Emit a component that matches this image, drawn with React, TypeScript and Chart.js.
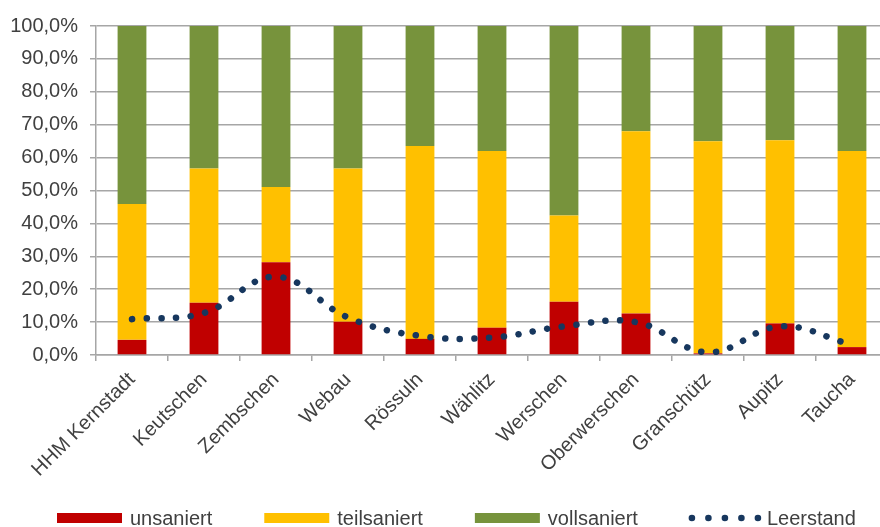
import React, { useEffect, useRef } from "react";
import { Chart, registerables } from "chart.js";

Chart.register(...registerables);

const categories = [
  "HHM Kernstadt",
  "Keutschen",
  "Zembschen",
  "Webau",
  "Rössuln",
  "Wählitz",
  "Werschen",
  "Oberwerschen",
  "Granschütz",
  "Aupitz",
  "Taucha",
];
const unsaniert = [4.6, 15.9, 28.2, 10.1, 4.9, 8.3, 16.2, 12.6, 0.5, 9.6, 2.4];
const teilsaniert = [41.3, 40.8, 22.9, 46.6, 58.6, 53.7, 26.2, 55.4, 64.5, 55.7, 59.6];
const vollsaniert = [54.1, 43.3, 48.9, 43.3, 36.5, 38.0, 57.6, 32.0, 35.0, 34.7, 38.0];
const leerstand = [10.9, 12.8, 23.8, 11.4, 5.8, 5.3, 8.7, 10.0, 0.8, 8.7, 3.1];

const FONT = '"Liberation Sans", Arial, sans-serif';
const TEXT = "#404040";
const GRID = "#A6A6A6";

const legendPlugin = {
  id: "customLegend",
  afterDraw(chart: any) {
    const ctx = chart.ctx;
    ctx.save();
    ctx.font = `20px ${FONT}`;
    ctx.textBaseline = "middle";
    ctx.textAlign = "left";
    const y = 518;
    let x = 57;
    chart.data.datasets.forEach((ds: any) => {
      if (ds.type === "line") {
        ctx.fillStyle = ds.borderColor;
        for (let i = 0; i < 5; i++) {
          ctx.beginPath();
          ctx.arc(x + 2 + i * 16.5, y, 3.3, 0, Math.PI * 2);
          ctx.fill();
        }
        x += 77;
      } else {
        ctx.fillStyle = ds.backgroundColor;
        ctx.fillRect(x, y - 5, 65, 10);
        x += 65 + 8;
      }
      ctx.fillStyle = TEXT;
      ctx.fillText(ds.label, x, y + 1);
      x += ctx.measureText(ds.label).width + 52;
    });
    ctx.restore();
  },
};

export default function App() {
  const ref = useRef<HTMLCanvasElement | null>(null);
  useEffect(() => {
    if (!ref.current) return;
    const chart = new Chart(ref.current, {
      type: "bar",
      data: {
        labels: categories,
        datasets: [
          {
            type: "bar",
            label: "unsaniert",
            data: unsaniert,
            backgroundColor: "#C00000",
            stack: "s",
            order: 1,
          },
          {
            type: "bar",
            label: "teilsaniert",
            data: teilsaniert,
            backgroundColor: "#FFC000",
            stack: "s",
            order: 1,
          },
          {
            type: "bar",
            label: "vollsaniert",
            data: vollsaniert,
            backgroundColor: "#77933C",
            stack: "s",
            order: 1,
          },
          {
            type: "line",
            label: "Leerstand",
            data: leerstand,
            borderColor: "#17375E",
            backgroundColor: "#17375E",
            borderWidth: 6.5,
            borderDash: [0.1, 14.6],
            borderCapStyle: "round",
            pointRadius: 0,
            tension: 0.4,
            stack: "l",
            order: 0,
          } as any,
        ],
      },
      options: {
        animation: false,
        responsive: true,
        maintainAspectRatio: false,
        layout: { padding: { top: 26, right: 4, left: 0, bottom: 0 } },
        datasets: {
          bar: { barPercentage: 0.4, categoryPercentage: 1 },
        } as any,
        plugins: {
          legend: { display: false },
          tooltip: { enabled: false },
        },
        scales: {
          x: {
            stacked: true,
            grid: {
              drawOnChartArea: false,
              drawTicks: true,
              tickLength: 6,
              color: GRID,
              lineWidth: 1.5,
            },
            border: { display: true, color: GRID, width: 1.5 },
            ticks: {
              minRotation: 45,
              maxRotation: 45,
              autoSkip: false,
              padding: 7,
              color: TEXT,
              font: { family: FONT, size: 20 },
            },
            afterFit: (scale: any) => {
              scale.height = 172;
            },
          },
          y: {
            stacked: true,
            min: 0,
            max: 100,
            grid: {
              color: GRID,
              lineWidth: 1.5,
              tickLength: 6,
            },
            border: { display: true, color: GRID, width: 1.5 },
            ticks: {
              stepSize: 10,
              padding: 12,
              color: TEXT,
              font: { family: FONT, size: 20 },
              callback: (v: any) => Number(v).toFixed(1).replace(".", ",") + "%",
            },
            afterFit: (scale: any) => {
              scale.width = 96;
            },
          },
        },
      },
      plugins: [legendPlugin],
    });
    return () => chart.destroy();
  }, []);
  return (
    <div
      style={{
        position: "fixed",
        left: 0,
        top: 0,
        width: 880,
        height: 527,
        overflow: "hidden",
        background: "#fff",
      }}
    >
      <div style={{ position: "absolute", left: 0, top: 0, width: 892, height: 527 }}>
        <canvas ref={ref} />
      </div>
    </div>
  );
}
